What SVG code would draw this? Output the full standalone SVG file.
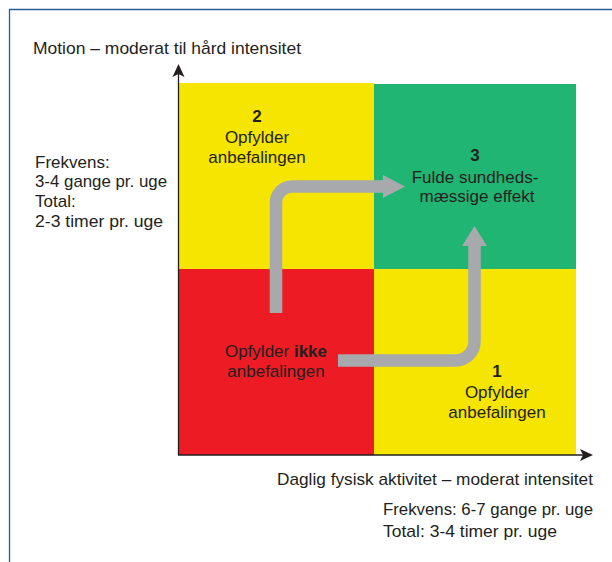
<svg xmlns="http://www.w3.org/2000/svg" width="612" height="562" viewBox="0 0 612 562">
  <style>
    text { font-family: "Liberation Sans", Arial, sans-serif; font-size: 17px; fill: #231f20; }
    .c { text-anchor: middle; }
    .b { font-weight: bold; }
    .flow { fill: none; stroke: #a7a9ac; stroke-width: 12.5; }
    .head { fill: #a7a9ac; }
    .axis { stroke: #231f20; stroke-width: 1.3; fill: none; }
  </style>
  <rect x="0" y="0" width="612" height="562" fill="#ffffff"/>
  <path d="M9.5,562 V9.5 H612" fill="none" stroke="#2b5b97" stroke-width="1.3"/>

  <g id="q2">
    <rect x="179" y="83" width="195" height="186" fill="#f6e500"/>
    <text x="257" y="122" class="c b">2</text>
    <text x="257" y="143" class="c">Opfylder</text>
    <text x="257" y="163" class="c">anbefalingen</text>
  </g>
  <g id="q3">
    <rect x="374" y="84" width="202" height="185" fill="#21b573"/>
    <text x="475" y="161" class="c b">3</text>
    <text x="475" y="183" class="c">Fulde sundheds-</text>
    <text x="477" y="202" class="c">mæssige effekt</text>
  </g>
  <g id="q0">
    <rect x="179" y="269" width="195" height="186" fill="#ed1c24"/>
    <text x="276" y="357" class="c">Opfylder <tspan class="b">ikke</tspan></text>
    <text x="276" y="377" class="c">anbefalingen</text>
  </g>
  <g id="q1">
    <rect x="374" y="269" width="202" height="186" fill="#f6e500"/>
    <text x="497" y="377" class="c b">1</text>
    <text x="497" y="398" class="c">Opfylder</text>
    <text x="497" y="418" class="c">anbefalingen</text>
  </g>

  <g id="connectors">
    <path class="flow" d="M276,313 V202.5 A16,16 0 0 1 292,186.5 H384"/>
    <path class="head" d="M383,175 L405,186.5 L383,198 Z"/>
    <path class="flow" d="M338,360.5 H455.5 A19,19 0 0 0 474.5,341.5 V245"/>
    <path class="head" d="M474.5,226 L487,246 L462,246 Z"/>
  </g>

  <g id="axes">
    <path class="axis" d="M178.5,455 V73"/>
    <path d="M178.5,64 L184.5,77 L178.5,74 L172.5,77 Z" fill="#231f20"/>
    <path class="axis" d="M178,455 H584"/>
    <path d="M593,455 L580,449 L583,455 L580,461 Z" fill="#231f20"/>
  </g>

  <g id="labels">
    <text x="33" y="54" textLength="268" lengthAdjust="spacingAndGlyphs">Motion – moderat til hård intensitet</text>
    <text x="35" y="168">Frekvens:</text>
    <text x="35" y="187" textLength="132" lengthAdjust="spacingAndGlyphs">3-4 gange pr. uge</text>
    <text x="35" y="207">Total:</text>
    <text x="35" y="227" textLength="128" lengthAdjust="spacingAndGlyphs">2-3 timer pr. uge</text>
    <text x="277" y="485" textLength="316" lengthAdjust="spacingAndGlyphs">Daglig fysisk aktivitet – moderat intensitet</text>
    <text x="383" y="515" textLength="210" lengthAdjust="spacingAndGlyphs">Frekvens: 6-7 gange pr. uge</text>
    <text x="383" y="537" textLength="174" lengthAdjust="spacingAndGlyphs">Total: 3-4 timer pr. uge</text>
  </g>
</svg>
